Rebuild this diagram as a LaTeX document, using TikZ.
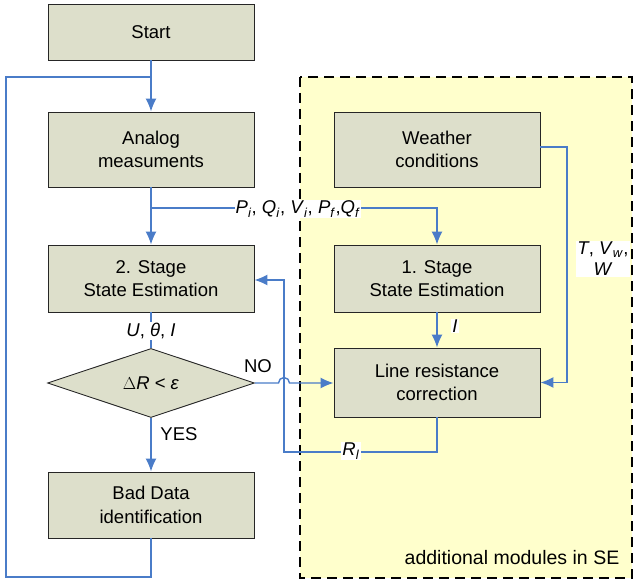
\documentclass[tikz,border=0pt]{standalone}
\usepackage{fontspec}
\setmainfont{Liberation Sans}
\usetikzlibrary{arrows.meta,shapes.geometric,positioning}
\definecolor{boxfill}{RGB}{221,223,203}
\definecolor{modfill}{RGB}{255,255,204}
\definecolor{flowblue}{RGB}{74,124,200}
\newcommand{\vsub}[2]{\textit{#1}\textsubscript{\textit{#2}}}
\tikzset{
  block/.style={draw=black!85, line width=0.9pt, fill=boxfill, minimum width=206, align=center, font=\fontsize{18.5}{23.5}\selectfont},
  decision/.style={diamond, draw=black!85, line width=0.9pt, fill=boxfill, minimum width=207, minimum height=68, inner sep=0pt, font=\fontsize{18.5}{22}\selectfont},
  flow/.style={draw=flowblue, line width=1.4pt},
  arr/.style={flow, -{Latex[length=13pt,width=11pt]}},
  lbl/.style={fill=white, inner sep=1pt, align=center, font=\fontsize{18.5}{21}\selectfont}
}

\begin{document}
\begin{tikzpicture}[x=1pt,y=-1pt]
     \useasboundingbox (0,0) rectangle (635,583);
     % additional modules
     \draw[fill=modfill, line width=1.5pt, dash pattern=on 10pt off 6pt] (300,77) rectangle (632,578);
     \node[font=\fontsize{19.5}{21}\selectfont] (addmod) at (512,558) {additional modules in SE};
     % left column
     \node[block, minimum height=56] (start) at (151,32) {Start};
     \node[block, minimum height=75] (analog) at (151,149.5) {Analog\\measuments};
     \node[block, minimum height=67] (stage2) at (151,278.5) {2. Stage\\State Estimation};
     \node[decision] (dec) at (151,383) {$\Delta$\textit{R} < \textit{ε}};
     \node[block, minimum height=66] (baddata) at (151,505) {Bad Data\\identification};
     % right column
     \node[block, minimum height=75] (weather) at (437,149.5) {Weather\\conditions};
     \node[block, minimum height=67] (stage1) at (437,278.5) {1. Stage\\State Estimation};
     \node[block, minimum height=69] (lrc) at (437,382.5) {Line resistance\\correction};
     % connectors
     \coordinate (loopin) at (151,77);
     \coordinate (branch) at (151,208);
     \draw[arr] (start) -- (analog);
     \draw[flow] (baddata.south) -- (151,577) -| (6,77) -- (loopin);
     \draw[arr] (analog) -- (stage2);
     \draw[arr] (branch) -| (stage1.north);
     \node[lbl] (pq) at (298,209) {\vsub{P}{i}, \vsub{Q}{i}, \vsub{V}{i}, \vsub{P}{f},\vsub{Q}{f}};
     \draw[arr] (weather.east |- 0,147) -- (567,147) |- (lrc.east);
     \node[lbl] (tvw) at (603,259) {\textit{T}, \vsub{V}{w},\\\textit{W}};
     \draw[arr] (stage1) -- (lrc);
     \node[lbl] (ilbl) at (455,326) {\textit{I}};
     \draw[flow] (stage2) -- (dec);
     \node[lbl] (uti) at (151,331) {\textit{U}, \textit{θ}, \textit{I}};
     \draw[arr] (dec.east) -- (278.5,383) arc[start angle=180, end angle=360, radius=5.5] -- (lrc.west |- 0,383);
     \node[font=\fontsize{18.5}{20}\selectfont] (no) at (258,366) {NO};
     \draw[arr] (lrc.south) -- (437,452) -| (284,280) -- (stage2.east |- 0,280);
     \node[lbl] (rl) at (351,451) {\vsub{R}{l}};
     \draw[arr] (dec.south) -- (baddata.north);
     \node[font=\fontsize{18.5}{20}\selectfont] (yes) at (179,434) {YES};
\end{tikzpicture}
\end{document}
